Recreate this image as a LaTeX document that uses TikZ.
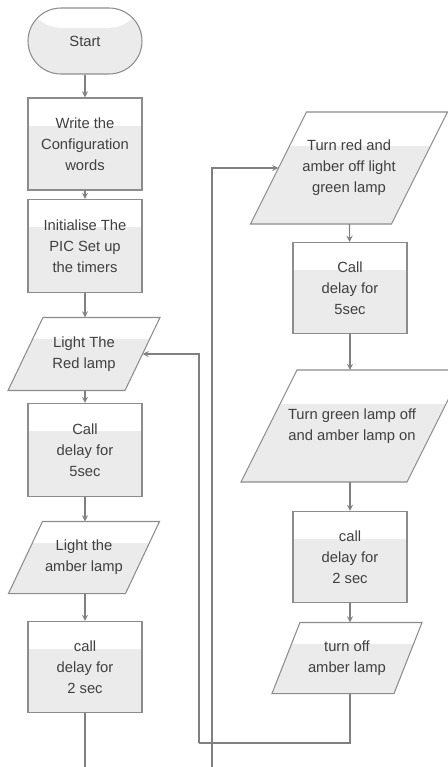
\documentclass[tikz,border=0pt]{standalone}
\usepackage{fontspec}
\setmainfont{Liberation Sans}
\usetikzlibrary{calc,backgrounds}

\tikzset{
  halfwhite/.style={path picture={
      \fill[white] (path picture bounding box.north west) rectangle
        ($(path picture bounding box.north east)!0.3!(path picture bounding box.south east)$);}},
  base/.style={draw=black!45, fill=black!8, line width=0.6pt, align=center,
      font=\fontsize{8.4}{12}\selectfont, text=black!75, inner sep=0pt},
  terminal/.style={base, halfwhite, rectangle, rounded corners=0.66cm,
      minimum width=2.28cm, minimum height=1.32cm},
  process/.style={base, halfwhite, rectangle, minimum width=2.28cm},
  io/.style={base, draw=none, fill=none, rectangle},
  ioshape/.style={draw=black!45, fill=black!8, line width=0.6pt, halfwhite},
  subproc/.style={base, rectangle, minimum width=2.28cm, path picture={
      \fill[white] (path picture bounding box.north west) rectangle
        ($(path picture bounding box.north east)!0.3!(path picture bounding box.south east)$);
      \draw[black!45, line width=0.6pt]
        ($(path picture bounding box.north west)+(0.34,0)$) -- ($(path picture bounding box.south west)+(0.34,0)$)
        ($(path picture bounding box.north east)+(-0.34,0)$) -- ($(path picture bounding box.south east)+(-0.34,0)$);}},
  flow/.style={draw=black!50, line width=0.6pt},
}

\begin{document}
\begin{tikzpicture}[x=0.02cm, y=-0.02cm, >=stealth]
  \useasboundingbox (0,0) rectangle (447,767);

  % left column
  \node[terminal] (start) at (85,41) {Start};
  \node[process, minimum height=1.84cm] (config) at (85,144) {Write the\\Configuration\\words};
  \node[process, minimum height=1.86cm] (init) at (85,246) {Initialise The\\PIC Set up\\the timers};
  \node[io, minimum width=2.32cm, minimum height=1.44cm] (red) at (84,354) {Light The\\Red lamp};
  \node[subproc, minimum height=1.86cm] (wait1) at (85,450) {Call\\delay for\\5sec};
  \node[io, minimum width=2.32cm, minimum height=1.42cm] (amber) at (84,557.5) {Light the\\amber lamp};
  \node[subproc, minimum height=1.82cm] (wait2) at (85,667) {call\\delay for\\2 sec};

  % right column
  \node[io, minimum width=2.8cm, minimum height=2.22cm] (golamp) at (349,168) {Turn red and\\amber off light\\green lamp};
  \node[subproc, minimum height=1.82cm] (wait3) at (350,288) {Call\\delay for\\5sec};
  \node[io, minimum width=3.3cm, minimum height=2.22cm] (amberon) at (352,426) {Turn green lamp off\\and amber lamp on};
  \node[subproc, minimum height=1.82cm] (wait4) at (350,557) {call\\delay for\\2 sec};
  \node[io, minimum width=2.42cm, minimum height=1.4cm] (amberoff) at (347,658) {turn off\\amber lamp};

  % slanted outlines behind the io nodes
  \begin{scope}[on background layer]
    \foreach \n/\s in {red/35,amber/34,golamp/56,amberon/56,amberoff/28}
      \path[ioshape] ($(\n.south west)+(-\s/2,0)$) -- ($(\n.south east)+(-\s/2,0)$)
        -- ($(\n.north east)+(\s/2,0)$) -- ($(\n.north west)+(\s/2,0)$) -- cycle;
  \end{scope}

  \coordinate (low) at (85,767);
  \coordinate (up) at (212,767);
  \coordinate (back) at (199,743);

  \draw[flow, ->] (start) -- (config);
  \draw[flow, ->] (config) -- (init);
  \draw[flow, ->] (init) -- (init |- red.north);
  \draw[flow, ->] (init |- red.south) -- (wait1);
  \draw[flow, ->] (wait1) -- (wait1 |- amber.north);
  \draw[flow, ->] (wait1 |- amber.south) -- (wait2);
  \draw[flow] (wait2) -- (low);

  \draw[flow, ->] (up) |- (golamp);
  \draw[flow, ->] (golamp) -- (wait3);
  \draw[flow, ->] (wait3) -- (wait3 |- amberon.north);
  \draw[flow, ->] (wait3 |- amberon.south) -- (wait4);
  \draw[flow, ->] (wait4) -- (wait4 |- amberoff.north);
  \draw[flow] (wait4 |- amberoff.south) |- (back);
  \draw[flow, ->] (back) |- (red);
\end{tikzpicture}
\end{document}
